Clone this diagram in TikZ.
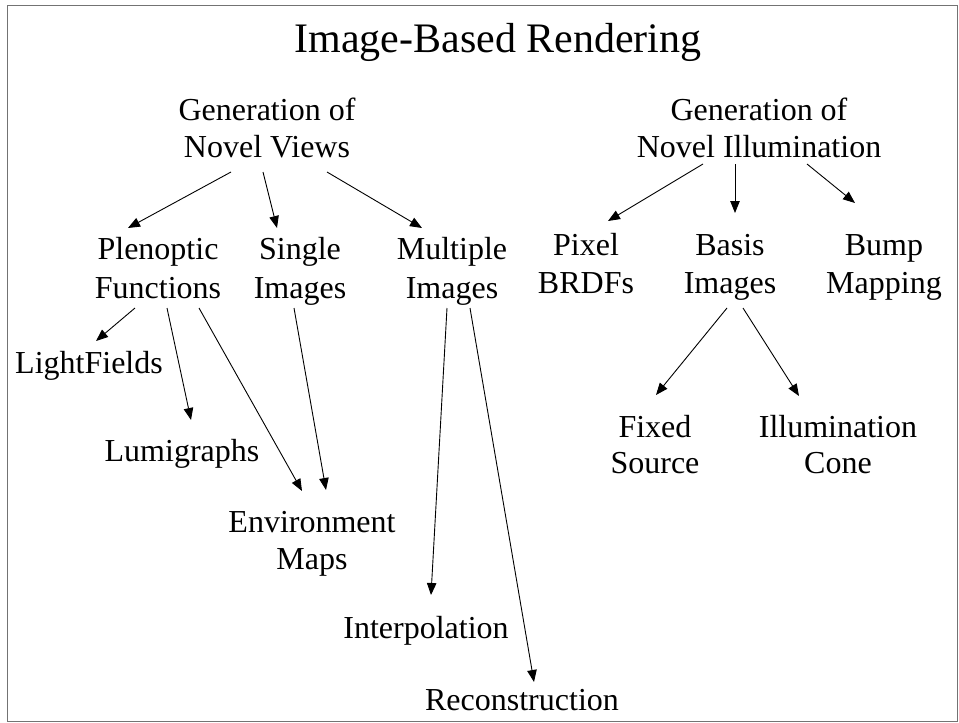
\documentclass[tikz,border=0pt]{standalone}
\usepackage{fontspec}
\setmainfont{Liberation Serif}
\usetikzlibrary{arrows.meta}
\newcommand\twoline[3][38pt]{\vtop{\baselineskip=#1\lineskiplimit=-100pt\halign{\hfil##\hfil\cr#2\cr#3\cr}}}
\begin{document}
\begin{tikzpicture}[x=1pt,y=-1pt,
  lbl/.style={inner sep=0pt,anchor=base,font=\fontsize{32}{38}\selectfont},
  arr/.style={line width=0.9pt,-{Triangle[length=12pt,width=9.5pt]}}]
\useasboundingbox (0,0) rectangle (959,723);
\draw[black!55,line width=1pt] (7,5) rectangle (957.5,721.5);
\node[inner sep=0pt,anchor=base,font=\fontsize{42}{50}\selectfont] (title) at (498,52) {Image-Based Rendering};
% nodes
\node[lbl] (gnv) at (267,120) {\twoline[37pt]{Generation of}{Novel Views}};
\node[lbl] (gni) at (759,120) {\twoline[37pt]{Generation of}{Novel Illumination}};
\node[lbl] (pleno) at (158,259) {\twoline[39pt]{Plenoptic}{Functions}};
\node[lbl] (single) at (300,259) {\twoline[39pt]{Single}{Images}};
\node[lbl] (multi) at (452,259) {\twoline[39pt]{Multiple}{Images}};
\node[lbl] (pixel) at (586,255) {\twoline[38pt]{Pixel}{BRDFs}};
\node[lbl] (basis) at (730,255) {\twoline[38pt]{Basis}{Images}};
\node[lbl] (bump) at (884,255) {\twoline[38pt]{Bump}{Mapping}};
\node[lbl] (light) at (89,373) {LightFields};
\node[lbl] (lumi) at (182,461) {Lumigraphs};
\node[lbl] (env) at (312,532) {\twoline[37pt]{Environment}{Maps}};
\node[lbl] (interp) at (426,638) {Interpolation};
\node[lbl] (recon) at (522,710) {Reconstruction};
\node[lbl] (fixed) at (655,437) {\twoline[36pt]{Fixed}{Source}};
\node[lbl] (illum) at (838,437) {\twoline[36pt]{Illumination}{Cone}};
% connector end points
\coordinate (gnv-a) at (231,172); \coordinate (pleno-in) at (128,228);
\coordinate (gnv-b) at (263,172); \coordinate (single-in) at (277,228);
\coordinate (gnv-c) at (327,172); \coordinate (multi-in) at (422,228);
\coordinate (gni-a) at (703,164); \coordinate (pixel-in) at (608,221);
\coordinate (gni-b) at (735,164); \coordinate (basis-in) at (735,213);
\coordinate (gni-c) at (807,164); \coordinate (bump-in) at (855,203);
\coordinate (pleno-a) at (135,308); \coordinate (light-in) at (96,341);
\coordinate (pleno-b) at (167,308); \coordinate (lumi-in) at (191,420);
\coordinate (pleno-c) at (199,308); \coordinate (env-in1) at (302,491);
\coordinate (single-a) at (294,308); \coordinate (env-in2) at (326,490);
\coordinate (multi-a) at (447,308); \coordinate (interp-in) at (431,595);
\coordinate (multi-b) at (470,308); \coordinate (recon-in) at (534,682);
\coordinate (basis-a) at (727,308); \coordinate (fixed-in) at (656,395);
\coordinate (basis-b) at (743,308); \coordinate (illum-in) at (799,396);
% connectors
\draw[arr] (gnv-a) -- (pleno-in);
\draw[arr] (gnv-b) -- (single-in);
\draw[arr] (gnv-c) -- (multi-in);
\draw[arr] (gni-a) -- (pixel-in);
\draw[arr] (gni-b) -- (basis-in);
\draw[arr] (gni-c) -- (bump-in);
\draw[arr] (pleno-a) -- (light-in);
\draw[arr] (pleno-b) -- (lumi-in);
\draw[arr] (pleno-c) -- (env-in1);
\draw[arr] (single-a) -- (env-in2);
\draw[arr] (multi-a) -- (interp-in);
\draw[arr] (multi-b) -- (recon-in);
\draw[arr] (basis-a) -- (fixed-in);
\draw[arr] (basis-b) -- (illum-in);
\end{tikzpicture}
\end{document}
